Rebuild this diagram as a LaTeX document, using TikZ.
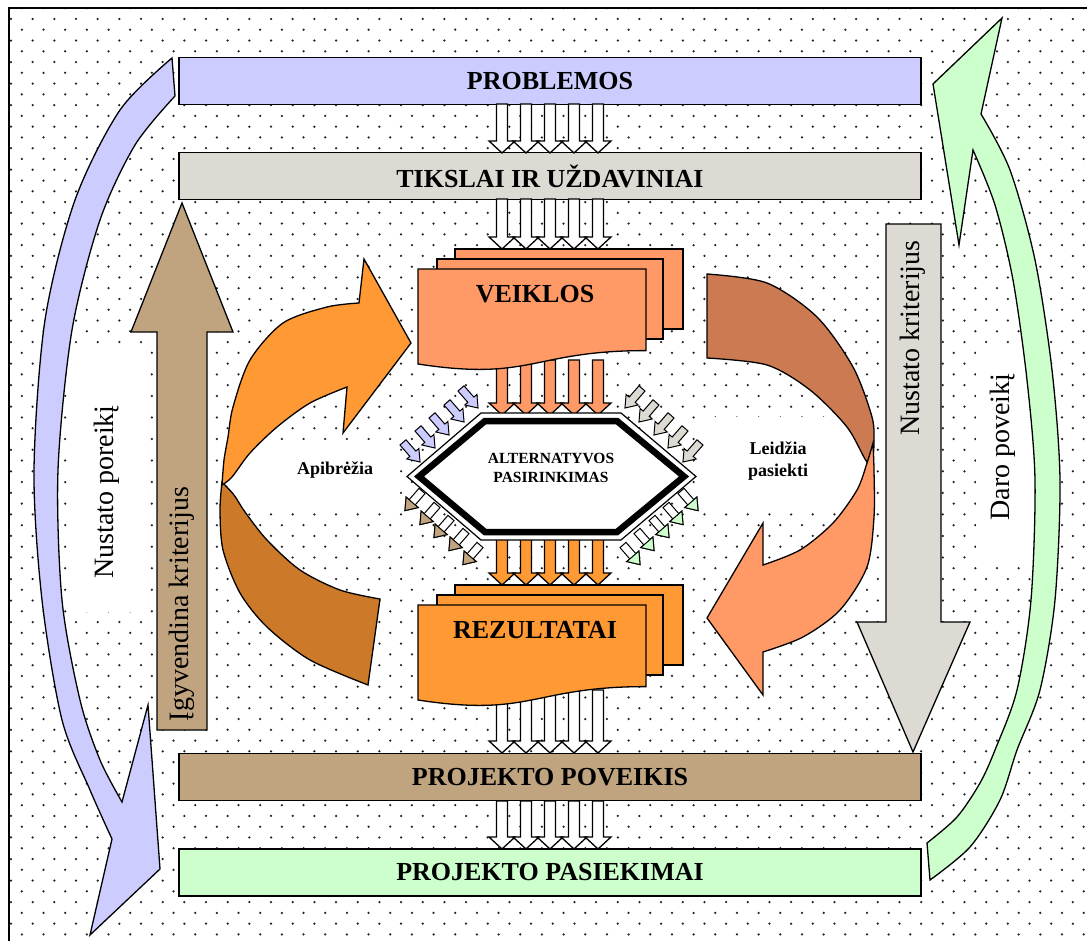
\documentclass[tikz,border=0pt]{standalone}
\usepackage{fontspec}
\setmainfont{Liberation Serif}
\definecolor{lav}{HTML}{CCCCFF}
\definecolor{grayb}{HTML}{DDD9D3}
\definecolor{tanb}{HTML}{C0A480}
\definecolor{mint}{HTML}{CCFFCC}
\definecolor{salmon}{HTML}{FF9966}
\definecolor{orng}{HTML}{FF9933}
\definecolor{dkorng}{HTML}{CC7A29}
\definecolor{dksalmon}{HTML}{CC7A52}
\definecolor{dotc}{HTML}{222222}
\newcommand\blockdn[4]{%
  \filldraw[fill=#4, ol] (#1-5.5,#2) -- (#1+5.5,#2) -- (#1+5.5,#3-12) -- (#1+13,#3-12) -- (#1,#3) -- (#1-13,#3-12) -- (#1-5.5,#3-12) -- cycle;}
\newcommand\sarrow[4]{%
  \filldraw[fill=#4, ol, line width=1pt, shift={(#1,#2)}, rotate=#3] (0,-4) -- (15,-4) -- (15,-8) -- (26,0) -- (15,8) -- (15,4) -- (0,4) -- cycle;}
\newcommand\sarrowtwo[4]{%
  \begin{scope}[shift={(#1,#2)}, rotate=#3]
  \filldraw[fill=white, ol, line width=1pt] (0,-4) -- (15,-4) -- (15,-8) -- (26,0) -- (15,8) -- (15,4) -- (0,4) -- cycle;
  \filldraw[fill=#4, ol, line width=1pt] (15,-8) -- (26,0) -- (15,8) -- cycle;
  \end{scope}}
\newcommand\cards[3]{%
  \filldraw[fill=#2, ol] (455,#1) rectangle (683,#1+80);
  \filldraw[fill=#2, ol] (437,#1+10) rectangle (663,#1+90);
  \filldraw[fill=#2, ol] (418,#1+20) -- (646,#1+20) -- (646,#1+101.6) .. controls (532,#1+101.6) and (532,#1+132.6) .. (418,#1+115) -- cycle;
  \node[font=\bfseries\fontsize{26}{30}\selectfont] at (535,#1+45) {#3};}
\begin{document}
\begin{tikzpicture}[x=1pt,y=-1pt,line join=miter,
  ol/.style={draw=black, line width=1.3pt},
  bar/.style={draw=black, line width=1.5pt, minimum width=742pt, minimum height=47pt, inner sep=0pt, font=\bfseries\fontsize{26}{30}\selectfont},
  lbl/.style={font=\fontsize{28}{32}\selectfont, rotate=90},
  blbl/.style={font=\bfseries\fontsize{18}{22}\selectfont, align=center}]
\useasboundingbox (0,0) rectangle (1087,941);
% dotted background
\begin{scope}
\clip (9,8) rectangle (1087,941);
\foreach \r in {0,...,87}{
  \pgfmathsetmacro\yy{8.2+10.77*\r}
  \pgfmathsetmacro\xo{mod(\r,2)==1 ? 11 : 0.17}
  \foreach \c in {0,...,50}{\fill[dotc] (\xo+21.67*\c,\yy) circle (1.25);}
}
\end{scope}
\draw[line width=2pt] (9,941) -- (9,8) -- (1087,8);
% white label backgrounds
\fill[white] (72,345) rectangle (148,612);
\fill[white] (976,350) rectangle (1044,560);
\fill[white] (235,440) rectangle (392,507);
\fill[white] (700,417) rectangle (860,507);
% big lavender curved arrow
\filldraw[fill=lav, ol] (172,58) -- (175,96)
  -- plot[smooth] coordinates {(175,96) (135,145) (100,220) (72,330) (58,470) (62,600) (80,700) (100,760) (122,802)}
  -- (148,705) -- (160,869) -- (90,935) -- (112,839)
  -- plot[smooth] coordinates {(112,839) (90,790) (62,720) (42,600) (34,470) (45,320) (75,200) (120,110) (172,58)} -- cycle;
% big green curved arrow
\filldraw[fill=mint, ol] (981,114) -- (1002,18) -- (933,84) -- (959,245) -- (973,150)
  -- plot[smooth] coordinates {(973,150) (995,205) (1013,280) (1027,380) (1035,480) (1031,600) (1017,690) (995,750) (980,783) (957,817) (927,843)}
  -- (930,880)
  -- plot[smooth] coordinates {(930,880) (970,847) (1000,800) (1017,750) (1040,690) (1055,600) (1060,480) (1052,370) (1035,260) (1010,170) (981,114)} -- cycle;
% bars
\node[bar, fill=lav] (prob) at (550,81) {PROBLEMOS};
\node[bar, fill=grayb] (tiks) at (550,176) {TIKSLAI IR UŽDAVINIAI};
\node[bar, fill=tanb] (pov) at (550,777) {PROJEKTO POVEIKIS};
\node[bar, fill=mint] (pas) at (550,872.5) {PROJEKTO PASIEKIMAI};
% block arrows
\foreach \cx in {502,526,550,574,598}{
  \blockdn{\cx}{104}{153}{white}
  \blockdn{\cx}{199}{249}{white}
  \blockdn{\cx}{360}{415}{salmon}
  \blockdn{\cx}{530}{585}{orng}
  \blockdn{\cx}{690}{753}{white}
  \blockdn{\cx}{801}{849}{white}
}
% straight big arrows
\filldraw[fill=tanb, ol] (157,730) -- (157,332) -- (131,332) -- (182,203) -- (233,332) -- (207,332) -- (207,730) -- cycle;
\filldraw[fill=grayb, ol] (886,224) -- (941,224) -- (941,622) -- (970,622) -- (913,752) -- (857,622) -- (886,622) -- cycle;
\node[lbl] at (182,604) {Įgyvendina kriterijus};
\node[lbl] at (913,338) {Nustato kriterijus};
\node[lbl] at (107,492) {Nustato poreikį};
\node[lbl] at (1003,447) {Daro poveikį};
% cards
\cards{249}{salmon}{VEIKLOS}
\cards{585}{orng}{REZULTATAI}
% left curved arrow
\filldraw[fill=dkorng, ol] (368,685)
  -- plot[smooth] coordinates {(368,685) (310,660) (267,627) (240,593) (223,550) (220,510) (222,482)}
  -- plot[smooth] coordinates {(222,482) (234,495) (245,512) (267,540) (300,570) (340,590) (380,599)} -- cycle;
\filldraw[fill=orng, ol] (222,485)
  -- plot[smooth] coordinates {(222,485) (224,460) (228,437) (233,407) (250,360) (283,323) (327,307) (359,303)}
  -- (364,259) -- (411,343) -- (343,433) -- (347,387)
  -- plot[smooth] coordinates {(347,387) (310,403) (277,427) (250,453) (232,477) (222,485)} -- cycle;
% right curved arrow
\filldraw[fill=dksalmon, ol] (707,274)
  -- plot[smooth] coordinates {(707,274) (767,283) (817,317) (853,367) (872,417) (874,443) (873,455)}
  -- plot[smooth] coordinates {(873,455) (867,462) (847,427) (810,390) (767,365) (707,358)} -- cycle;
\filldraw[fill=salmon, ol] (873,443)
  -- plot[smooth] coordinates {(873,443) (874,470) (874,517) (867,567) (840,610) (803,637) (763,652)}
  -- (763,695) -- (707,618) -- (763,523) -- (763,565)
  -- plot[smooth] coordinates {(763,565) (800,550) (833,523) (857,490) (867,463) (873,443)} -- cycle;
\node[blbl] at (335,470) {Apibrėžia};
\node[blbl, align=center] at (778,461) {Leidžia\\pasiekti};
% hexagon
\filldraw[fill=white, draw=black, line width=1.2pt] (407,476.5) -- (481,413) -- (621,413) -- (696,476.5) -- (621,540) -- (481,540) -- cycle;
\filldraw[fill=white, draw=black, line width=6.5pt] (419,476.5) -- (485,421) -- (617,421) -- (684,476.5) -- (617,532) -- (485,532) -- cycle;
\node[font=\bfseries\fontsize{15.5}{19}\selectfont, align=center] (alt) at (551,468) {ALTERNATYVOS\\PASIRINKIMAS};
% small diagonal arrows
\foreach \tx/\ty in {420/462,435/448,449/435,464/422,478/408}{
  \sarrow{\tx-17}{\ty-19.6}{-49}{lav}}
\foreach \tx/\ty in {683/462,668/448,654/435,639/422,625/408}{
  \sarrow{\tx+17}{\ty-19.6}{-131}{grayb}}
\foreach \tx/\ty in {422/491,437/505,451/518,466/531,480/545}{
  \sarrowtwo{\tx}{\ty}{-131}{tanb}}
\foreach \tx/\ty in {681/491,666/505,652/518,637/531,623/545}{
  \sarrowtwo{\tx}{\ty}{-49}{mint}}
\end{tikzpicture}
\end{document}
